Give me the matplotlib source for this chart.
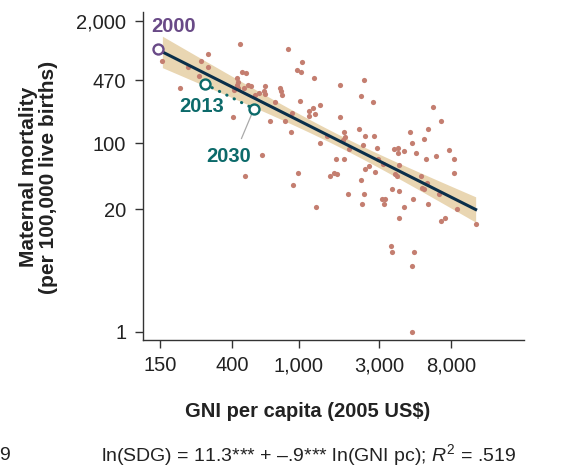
import numpy as np
import matplotlib.pyplot as plt

plt.rcParams['font.family'] = ['Liberation Sans', 'DejaVu Sans']
plt.rcParams['mathtext.fontset'] = 'custom'
plt.rcParams['mathtext.rm'] = 'Liberation Sans'
plt.rcParams['mathtext.it'] = 'Liberation Sans:italic'

# country points: GNI per capita (2005 US$) and maternal mortality
gni = [155, 447, 865, 288, 261, 219, 288, 257, 1047, 970, 1024, 1228, 458, 483,
       431, 437, 431, 437, 197, 414, 472, 501, 519, 629, 620, 629, 580, 549,
       772, 783, 790, 1014, 721, 1216, 1151, 1151, 1245, 913, 408, 673, 826,
       893, 1751, 2430, 2333, 2759, 1327, 1758, 1472, 1327, 1857, 1875, 1831,
       2279, 2480, 2774, 2406, 2901, 1980, 1652, 1849, 983, 918, 1528, 1614,
       1688, 2333, 1945, 2420, 2464, 2612, 2835, 2961, 3158, 3659, 3881, 3881,
       4213, 4553, 4661, 4976, 5512, 5798, 6257, 6981, 7722, 8302, 8335, 6537,
       5704, 3946, 3107, 3250, 3180, 3576, 3918, 4745, 3710, 3797, 5305, 5720,
       5385, 5549, 6763, 1262, 2370, 4195, 3946, 5847, 8672, 6971, 7341, 11163,
       3499, 3546, 4790, 4661, 4661, 601, 477]
mmr = [753, 1125, 995, 894, 748, 650, 641, 518, 735, 600, 571, 499, 567, 553,
       490, 451, 416, 384, 384, 368, 389, 416, 409, 409, 359, 331, 344, 326,
       389, 359, 326, 283, 272, 235, 222, 196, 203, 212, 192, 172, 172,
       131, 416, 467, 315, 272, 253, 192, 120, 102, 131, 117, 108,
       142, 121, 120, 97, 90, 87, 69, 68, 49, 36, 45, 49,
       47, 41, 29, 29, 53, 58, 50, 69, 61, 87, 90, 80,
       84, 131, 102, 80, 111, 141, 243, 172, 86, 69, 49, 73,
       69, 59, 26, 26, 23, 32.5, 31, 26, 47, 45, 45, 38,
       34, 33, 29, 21, 23, 21, 16, 23, 20.2, 15.1, 16, 14.1,
       8.07, 7.07, 7.07, 5.07, 1.0, 76, 44.7]

# fitted model ln(SDG) = b0 + b1 ln(GNI pc)
b0, b1 = 11.38, -0.90

# highlighted trajectory
path_years = ['2000', '2013', '2030']
path_gni = [145, 276, 541]
path_mmr = [1000, 428, 233]

x_ticks = [150, 400, 1000, 3000, 8000]
x_tick_labels = ['150', '400', '1,000', '3,000', '8,000']
y_ticks = [1, 20, 100, 470, 2000]
y_tick_labels = ['1', '20', '100', '470', '2,000']

dot_color = '#c47e70'
line_color = '#0a2f4a'
band_color = '#e9d6b2'
purple = '#694a87'
teal = '#0c6a6a'
axis_color = '#333333'

fig = plt.figure(figsize=(5.66, 4.69), dpi=100)
ax = fig.add_axes([0.2527, 0.2744, 0.6731, 0.70])
ax.set_xscale('log')
ax.set_yscale('log')

# regression line and confidence band
lx = np.log(gni)
ly = np.log(mmr)
n = len(lx)
resid = ly - (b0 + b1 * lx)
s = np.sqrt(np.sum(resid ** 2) / (n - 2))
xbar = lx.mean()
sxx = np.sum((lx - xbar) ** 2)
xs = np.linspace(lx.min(), lx.max(), 200)
fit = b0 + b1 * xs
half = 1.75 * s * np.sqrt(1 / n + (xs - xbar) ** 2 / sxx)
ax.fill_between(np.exp(xs), np.exp(fit - half), np.exp(fit + half),
                color=band_color, lw=0, zorder=1)
ax.scatter(gni, mmr, s=14, color=dot_color, lw=0, zorder=2)
ax.plot(np.exp(xs), np.exp(fit), color=line_color, lw=2.2, zorder=3)

# 2013 -> 2030 dotted projection
ax.plot(path_gni[1:], path_mmr[1:], color=teal, lw=2.2,
        linestyle=(0, (0.1, 2.6)), dash_capstyle='round', zorder=4)
colors = [purple, teal, teal]
for g, m, c in zip(path_gni, path_mmr, colors):
    ax.plot(g, m, 'o', ms=7.2, mfc='white', mec=c, mew=1.7, zorder=5)

ax.annotate(path_years[0], (path_gni[0], path_mmr[0]), xytext=(11.7, 16),
            textcoords='offset points', ha='center', va='center',
            fontsize=14.5, fontweight='bold', color=purple)
ax.annotate(path_years[1], (path_gni[1], path_mmr[1]), xytext=(-2.3, -16),
            textcoords='offset points', ha='center', va='center',
            fontsize=14.5, fontweight='bold', color=teal)
ax.annotate(path_years[2], (path_gni[2], path_mmr[2]), xytext=(-18.5, -34),
            textcoords='offset points', ha='center', va='center',
            fontsize=14.5, fontweight='bold', color=teal,
            arrowprops=dict(arrowstyle='-', color='#aaaaaa', lw=0.9,
                            relpos=(0.72, 1.0), shrinkA=4, shrinkB=4))

ax.set_xlim(119, 21600)
ax.set_ylim(0.816, 2480)
ax.set_xticks(x_ticks)
ax.set_xticklabels(x_tick_labels)
ax.set_yticks(y_ticks)
ax.set_yticklabels(y_tick_labels)
ax.minorticks_off()
ax.tick_params(labelsize=14.5, length=5.5, width=1.0, color=axis_color,
               labelcolor='#222222')
ax.tick_params(axis='x', pad=6)
ax.tick_params(axis='y', pad=6.5)
for side in ['top', 'right']:
    ax.spines[side].set_visible(False)
for side in ['left', 'bottom']:
    ax.spines[side].set_color(axis_color)
    ax.spines[side].set_linewidth(1.0)

fig.text(308 / 566, 1 - 411 / 469, r'GNI per capita (2005 US\$)',
         ha='center', va='center', fontsize=14.5, fontweight='bold', color='#222222')
fig.text(38.5 / 566, 1 - 177 / 469,
         'Maternal mortality\n(per 100,000 live births)', rotation=90,
         ha='center', va='center', multialignment='center', linespacing=1.1,
         fontsize=15, fontweight='bold', color='#222222')
fig.text(309 / 566, 1 - 455 / 469,
         r'ln(SDG) = 11.3*** + –.9*** ln(GNI pc); $\mathit{R}^{\mathregular{2}}$ = .519',
         ha='center', va='center', fontsize=14, color='#222222')
fig.text(5 / 566, 1 - 455 / 469, '9', ha='center', va='center',
         fontsize=14, color='#222222')

fig.savefig('out.png', dpi=100)
